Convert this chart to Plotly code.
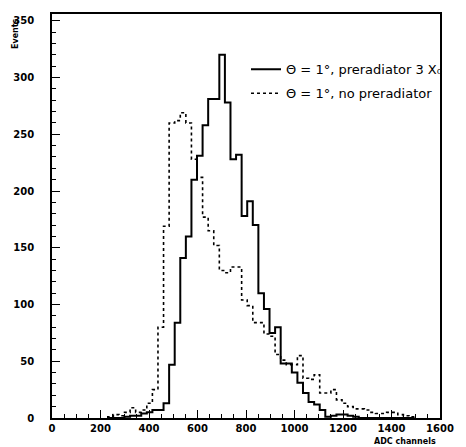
import plotly.graph_objects as go

# Histogram data (ADC channels, bin width 23, first bin starts at 230)
BIN_WIDTH = 23
FIRST_EDGE = 230

with_prerad = [0, 0, 0, 1, 2, 2, 4, 5, 7, 7, 13, 47, 84, 141, 160, 210, 231, 258, 281, 281,
               320, 278, 228, 232, 178, 191, 170, 110, 96, 75, 80, 48, 48, 40, 31, 22, 14, 12, 7, 1,
               2, 3, 3, 2, 1, 0, 0, 0, 0, 0, 0, 0, 0, 0, 0]
no_prerad = [1, 3, 2, 5, 9, 5, 7, 13, 25, 80, 169, 260, 262, 269, 260, 228, 212, 177, 165, 152,
             130, 128, 133, 133, 104, 99, 84, 84, 74, 72, 56, 51, 47, 47, 55, 35, 34, 38, 22, 22,
             25, 16, 13, 10, 8, 8, 7, 5, 4, 4, 5, 5, 3, 2, 1]

x_ticks = [0, 200, 400, 600, 800, 1000, 1200, 1400, 1600]
y_ticks = [0, 50, 100, 150, 200, 250, 300, 350]

label_solid = "Θ = 1°, preradiator 3 X₀"
label_dot = "Θ = 1°, no preradiator"


def step_xy(counts):
    edges = [FIRST_EDGE + i * BIN_WIDTH for i in range(len(counts) + 1)]
    ys = [0] + list(counts) + [counts[-1], 0]
    xs = [edges[0]] + edges + [edges[-1]]
    return xs, ys


fig = go.Figure()
xs, ys = step_xy(no_prerad)
fig.add_trace(go.Scatter(x=xs, y=ys, mode="lines", line_shape="hv",
                         line=dict(color="black", width=1.6, dash="dot"),
                         name=label_dot, legendgroup="b", legendrank=2))
xs, ys = step_xy(with_prerad)
fig.add_trace(go.Scatter(x=xs, y=ys, mode="lines", line_shape="hv",
                         line=dict(color="black", width=2),
                         name=label_solid, legendgroup="a", legendrank=1))

fig.update_layout(
    width=466, height=447,
    margin=dict(l=52, r=14, t=13, b=29),
    paper_bgcolor="white", plot_bgcolor="white",
    showlegend=True,
    legend=dict(x=0.50, y=0.90, xanchor="left", yanchor="top",
                bgcolor="rgba(0,0,0,0)", traceorder="grouped",
                font=dict(family="DejaVu Sans", size=13, color="black"),
                itemwidth=30, tracegroupgap=4),
    font=dict(family="DejaVu Sans", color="black"),
)
fig.update_xaxes(range=[0, 1600], tickvals=x_ticks, ticktext=[str(v) for v in x_ticks],
                 showgrid=False, zeroline=False, showline=True, linecolor="black",
                 linewidth=1.6, mirror=True, ticks="inside", ticklen=8, tickwidth=1.2,
                 tickcolor="black",
                 minor=dict(dtick=50, ticks="inside", ticklen=4, tickcolor="black", tickwidth=1),
                 tickfont=dict(family="DejaVu Sans", size=10, color="black", weight="bold"))
fig.update_yaxes(range=[0, 356], tickvals=y_ticks, ticktext=[str(v) for v in y_ticks],
                 showgrid=False, zeroline=False, showline=True, linecolor="black",
                 linewidth=1.6, mirror=True, ticks="inside", ticklen=8, tickwidth=1.2,
                 tickcolor="black", ticklabelstandoff=14,
                 minor=dict(dtick=10, ticks="inside", ticklen=4, tickcolor="black", tickwidth=1),
                 tickfont=dict(family="DejaVu Sans", size=10, color="black", weight="bold"))

fig.add_annotation(text="Events", xref="paper", yref="paper", x=-0.094, y=0.995,
                   xanchor="center", yanchor="top", textangle=-90, showarrow=False,
                   font=dict(family="DejaVu Sans", size=8, color="black", weight="bold"))
fig.add_annotation(text="ADC channels", xref="paper", yref="paper", x=0.995, y=-0.058,
                   xanchor="right", yanchor="middle", showarrow=False,
                   font=dict(family="DejaVu Sans", size=8, color="black", weight="bold"))

fig.write_html("out.html", config={"displayModeBar": False},
               post_script="document.body.style.margin='0';document.body.style.overflow='hidden';")
